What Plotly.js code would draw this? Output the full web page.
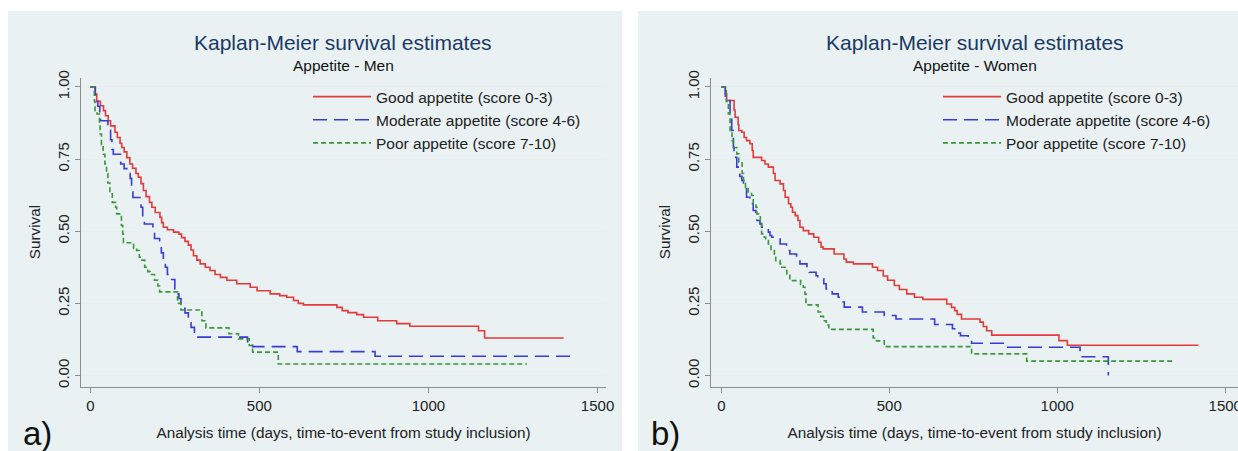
<!DOCTYPE html>
<html>
<head>
<meta charset="utf-8">
<script src="https://cdn.plot.ly/plotly-3.0.1.min.js"></script>
<style>html,body{margin:0;padding:0;background:#fff;}#chart{width:1238px;height:451px;}</style>
</head>
<body>
<div id="chart"></div>
<script>
// ---------- DATA ----------
const seriesNames = ["Good appetite (score 0-3)", "Moderate appetite (score 4-6)", "Poor appetite (score 7-10)"];
const xTicks = [0, 500, 1000, 1500];
const yTicks = [0, 0.25, 0.5, 0.75, 1];
const yTickText = ["0.00", "0.25", "0.50", "0.75", "1.00"];

// Panel a) Men
const menGoodT = [0,14,19,30,39,45,53,60,73,80,88,93,100,108,117,125,135,142,150,157,165,175,182,192,206,211,216,228,246,262,270,280,290,298,305,315,325,340,354,369,385,404,433,473,493,532,560,581,601,615,630,729,745,762,788,808,850,906,945,1148,1166,1400];
const menGoodS = [1,0.975,0.95,0.935,0.918,0.9,0.883,0.865,0.843,0.825,0.805,0.79,0.775,0.755,0.733,0.718,0.7,0.687,0.665,0.641,0.62,0.6,0.583,0.565,0.548,0.53,0.514,0.505,0.497,0.49,0.478,0.465,0.452,0.435,0.415,0.4,0.387,0.375,0.364,0.35,0.34,0.33,0.318,0.306,0.294,0.283,0.277,0.271,0.26,0.25,0.245,0.236,0.225,0.218,0.211,0.202,0.19,0.18,0.171,0.155,0.13,0.13];

const menModT = [0,15,22,28,30,52,60,64,68,90,100,112,118,122,126,150,155,160,185,190,205,210,216,222,228,233,250,256,262,268,272,280,290,298,308,318,465,480,612,842,1420];
const menModS = [1,0.967,0.933,0.9,0.883,0.85,0.817,0.783,0.767,0.733,0.717,0.7,0.683,0.65,0.617,0.583,0.55,0.525,0.5,0.475,0.45,0.425,0.4,0.375,0.35,0.333,0.3,0.283,0.267,0.25,0.233,0.217,0.183,0.167,0.15,0.133,0.117,0.1,0.083,0.067,0.067];

const menPoorT = [0,12,14,20,27,29,33,38,43,48,52,58,65,75,78,92,96,98,128,137,145,152,161,170,177,190,200,205,258,268,330,342,410,438,470,480,556,1291];
const menPoorS = [1,0.95,0.918,0.906,0.87,0.837,0.8,0.767,0.733,0.7,0.667,0.633,0.6,0.583,0.56,0.52,0.49,0.46,0.44,0.433,0.41,0.4,0.375,0.36,0.35,0.33,0.31,0.29,0.25,0.227,0.19,0.165,0.145,0.127,0.104,0.081,0.04,0.04];

// Panel b) Women
const womenGoodT = [0,12,16,38,41,50,52,61,68,75,85,92,95,120,130,140,155,160,175,185,190,200,207,212,220,228,234,244,260,275,290,297,303,336,365,372,393,450,465,482,495,515,530,552,575,600,671,685,695,702,715,770,780,790,805,1005,1030,1420];
const womenGoodS = [1,0.975,0.953,0.92,0.895,0.87,0.849,0.843,0.825,0.814,0.803,0.78,0.756,0.745,0.733,0.722,0.7,0.676,0.664,0.641,0.618,0.595,0.583,0.566,0.554,0.537,0.514,0.502,0.491,0.479,0.462,0.445,0.439,0.421,0.404,0.393,0.387,0.375,0.364,0.345,0.33,0.312,0.298,0.283,0.271,0.264,0.248,0.236,0.225,0.212,0.196,0.185,0.17,0.155,0.14,0.121,0.105,0.105];

const womenModT = [0,12,26,31,36,38,46,55,61,66,75,85,93,95,103,106,115,120,140,145,150,175,194,204,224,234,255,262,282,287,305,312,330,348,360,366,420,485,520,635,688,700,712,735,745,848,1068,1152];
const womenModS = [1,0.953,0.895,0.849,0.79,0.756,0.722,0.69,0.676,0.652,0.618,0.612,0.595,0.572,0.56,0.537,0.525,0.514,0.497,0.485,0.479,0.456,0.433,0.421,0.404,0.387,0.37,0.358,0.346,0.335,0.318,0.3,0.283,0.271,0.255,0.237,0.22,0.208,0.196,0.177,0.162,0.147,0.138,0.127,0.112,0.098,0.065,0];

const womenPoorT = [0,15,21,26,32,36,46,52,62,66,72,80,90,95,103,106,116,120,128,132,140,148,158,162,175,180,190,195,204,236,244,249,252,288,296,304,312,320,452,462,485,745,909,1345];
const womenPoorS = [1,0.95,0.906,0.849,0.814,0.79,0.768,0.74,0.7,0.676,0.652,0.636,0.624,0.595,0.583,0.56,0.537,0.491,0.479,0.468,0.456,0.433,0.421,0.398,0.387,0.375,0.364,0.352,0.329,0.316,0.306,0.283,0.245,0.22,0.205,0.19,0.175,0.16,0.13,0.12,0.1,0.075,0.05,0.05];

// ---------- STYLE ----------
const W = 1238, H = 451;
const FONT = "Liberation Sans, Arial, Helvetica, sans-serif";
const colors = ["#e53a3a", "#3a3ad8", "#3a963a"];
const dashes = ["solid", "14px,7px", "5px,3px"];
const panelBg = "#e9f1f3";
const axisCol = "#8a8f92";

function trace(t, s, i, xa, ya, lg) {
  return {
    type: "scatter", mode: "lines", x: t, y: s, name: seriesNames[i],
    xaxis: xa, yaxis: ya, legend: lg,
    line: {shape: "hv", color: colors[i], width: 1.6, dash: dashes[i]},
    hoverinfo: "x+y+name"
  };
}

const data = [
  trace(menGoodT, menGoodS, 0, "x", "y", "legend"),
  trace(menModT, menModS, 1, "x", "y", "legend"),
  trace(menPoorT, menPoorS, 2, "x", "y", "legend"),
  trace(womenGoodT, womenGoodS, 0, "x2", "y2", "legend2"),
  trace(womenModT, womenModS, 1, "x2", "y2", "legend2"),
  trace(womenPoorT, womenPoorS, 2, "x2", "y2", "legend2")
];

function xAxis(d0, d1, r0, r1, anchor) {
  return {
    domain: [d0 / W, d1 / W], range: [r0, r1], anchor: anchor,
    tickmode: "array", tickvals: xTicks, ticklabeloverflow: "allow",
    ticks: "outside", ticklen: 5, tickcolor: axisCol, tickwidth: 1,
    showline: true, linecolor: axisCol, linewidth: 1,
    showgrid: false, zeroline: false, fixedrange: true,
    tickfont: {family: FONT, size: 15, color: "#222"},
    title: {text: "Analysis time (days, time-to-event from study inclusion)", font: {family: FONT, size: 15.3, color: "#222"}, standoff: 14}
  };
}
function yAxis(anchor) {
  return {
    domain: [1 - 386.5 / H, 1 - 77.7 / H], range: [-0.038, 1.032], anchor: anchor,
    tickmode: "array", tickvals: yTicks, ticktext: yTickText, tickangle: -90,
    ticks: "outside", ticklen: 5, tickcolor: axisCol, tickwidth: 1,
    showline: true, linecolor: axisCol, linewidth: 1,
    showgrid: true, gridcolor: "#e6eef0", gridwidth: 1, zeroline: false, fixedrange: true,
    tickfont: {family: FONT, size: 15, color: "#222"},
    title: {text: "Survival", font: {family: FONT, size: 15.3, color: "#222"}, standoff: 10}
  };
}

function legendAt(xpx) {
  return {
    x: xpx / W, xanchor: "left", y: 1 - 80 / H, yanchor: "top",
    bgcolor: "rgba(0,0,0,0)", borderwidth: 0, itemwidth: 58,
    font: {family: FONT, size: 15.5, color: "#222"}, traceorder: "normal",
    itemclick: false, itemdoubleclick: false
  };
}

const titleFont = {family: FONT, size: 21, color: "#1a3a66"};
const subFont = {family: FONT, size: 15.5, color: "#111"};
const leftC = (81 + 606) / 2, rightC = (711 + 1238) / 2;

const layout = {
  width: W, height: H,
  margin: {l: 0, r: 0, t: 0, b: 0, pad: 0},
  paper_bgcolor: "#ffffff", plot_bgcolor: "#ffffff",
  showlegend: true,
  xaxis: xAxis(81, 606, -27.5, 1525, "y"),
  yaxis: yAxis("x"),
  xaxis2: xAxis(711, 1238, -30.7, 1538, "y2"),
  yaxis2: yAxis("x2"),
  legend: legendAt(308),
  legend2: legendAt(938),
  shapes: [
    {type: "rect", xref: "paper", yref: "paper", x0: 8 / W, x1: 622 / W, y0: 0, y1: 1 - 11 / H, fillcolor: panelBg, line: {width: 0}, layer: "below"},
    {type: "rect", xref: "paper", yref: "paper", x0: 638 / W, x1: 1, y0: 0, y1: 1 - 11 / H, fillcolor: panelBg, line: {width: 0}, layer: "below"}
  ],
  annotations: [
    {text: "Kaplan-Meier survival estimates", xref: "paper", yref: "paper", x: leftC / W, y: 1 - 42 / H, xanchor: "center", yanchor: "middle", showarrow: false, font: titleFont},
    {text: "Appetite - Men", xref: "paper", yref: "paper", x: leftC / W, y: 1 - 65 / H, xanchor: "center", yanchor: "middle", showarrow: false, font: subFont},
    {text: "Kaplan-Meier survival estimates", xref: "paper", yref: "paper", x: rightC / W, y: 1 - 42 / H, xanchor: "center", yanchor: "middle", showarrow: false, font: titleFont},
    {text: "Appetite - Women", xref: "paper", yref: "paper", x: rightC / W, y: 1 - 65 / H, xanchor: "center", yanchor: "middle", showarrow: false, font: subFont},
    {text: "a)", xref: "paper", yref: "paper", x: 37 / W, y: 1 - 433 / H, xanchor: "center", yanchor: "middle", showarrow: false, font: {family: FONT, size: 33, color: "#111"}},
    {text: "b)", xref: "paper", yref: "paper", x: 666 / W, y: 1 - 433 / H, xanchor: "center", yanchor: "middle", showarrow: false, font: {family: FONT, size: 33, color: "#111"}}
  ]
};

Plotly.newPlot("chart", data, layout, {displayModeBar: false, staticPlot: false});
</script>
</body>
</html>
